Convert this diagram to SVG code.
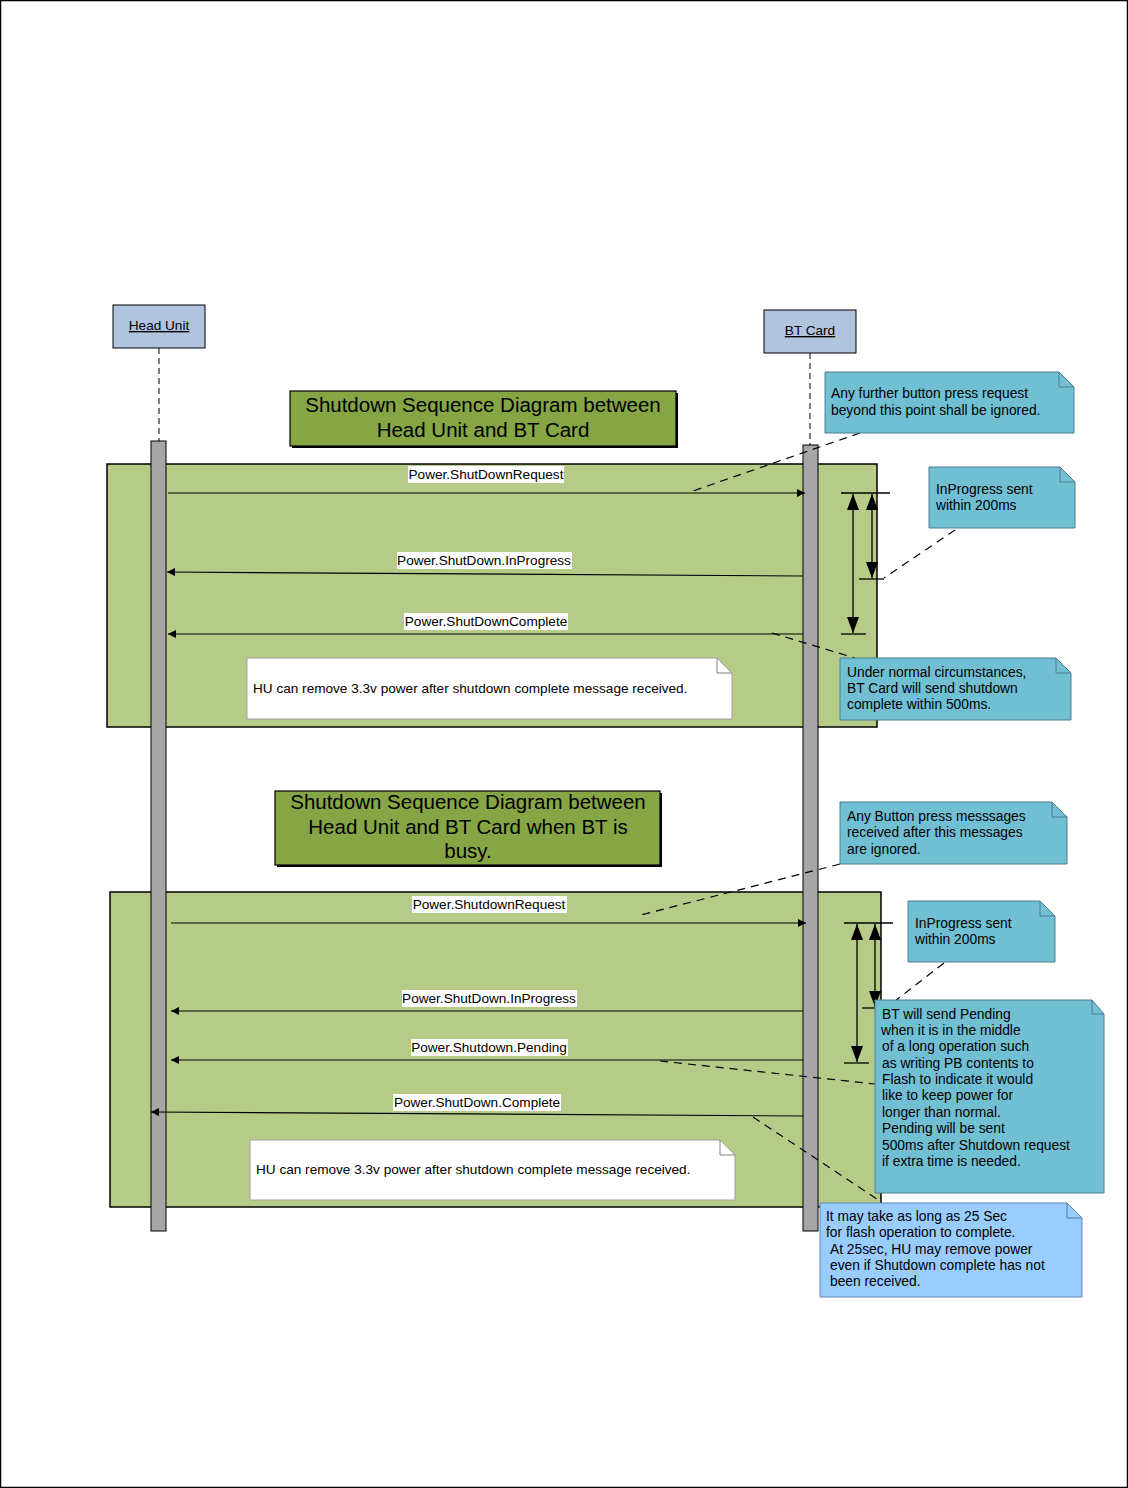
<svg xmlns="http://www.w3.org/2000/svg" width="1128" height="1488" viewBox="0 0 1128 1488">
<style>
text{font-family:"Liberation Sans",Arial,sans-serif;fill:#000}
.lbl{font-size:13.6px}
.nt{font-size:13.8px}
.ttl{font-size:20.5px;text-anchor:middle}
.msg{stroke:#000;stroke-width:1.2;fill:none}
.dash{stroke:#000;stroke-width:1.2;fill:none;stroke-dasharray:8 6}
.life{stroke:#000;stroke-width:1;fill:none;stroke-dasharray:6 4}
.act{fill:#a6a6a6;stroke:#000;stroke-width:1}
.obj{fill:#b0c4de;stroke:#000;stroke-width:1}
.frame{fill:#b7cb88;stroke:#000;stroke-width:1.5}
.title{fill:#86a545;stroke:#000;stroke-width:1.2}
.note{fill:#70bfd3;stroke:#4f7f8e;stroke-width:1}
.note2{fill:#99ccff;stroke:#5f86b8;stroke-width:1}
.wnote{fill:#fff;stroke:#a0a0a0;stroke-width:1}
.fold{fill:none;stroke:#4f7f8e;stroke-width:1}
.wfold{fill:none;stroke:#808080;stroke-width:1}
.lblbg{fill:#fff}
.dim{stroke:#000;stroke-width:1.3;fill:none}
</style>
<defs>
<marker id="ah" viewBox="0 0 10 10" refX="10" refY="5" markerWidth="8" markerHeight="8" markerUnits="userSpaceOnUse" orient="auto"><path d="M0,0 L10,5 L0,10 Z" fill="#000"/></marker>
<marker id="dh" viewBox="0 0 16 12" refX="16" refY="6" markerWidth="16" markerHeight="12" markerUnits="userSpaceOnUse" orient="auto-start-reverse"><path d="M0,0 L16,6 L0,12 Z" fill="#000"/></marker>
</defs>
<rect x="0.5" y="0.5" width="1127" height="1487" fill="#fff" stroke="#000" stroke-width="1.5"/>

<g id="frame1"><rect class="frame" x="107" y="464" width="770" height="263"/></g>
<g id="frame2"><rect class="frame" x="110" y="892" width="771" height="315"/></g>

<g id="title1">
<rect x="292" y="393" width="386" height="55" fill="#000"/>
<rect class="title" x="290" y="391" width="386" height="55"/>
<text class="ttl" x="483" y="412">Shutdown Sequence Diagram between</text>
<text class="ttl" x="483" y="437">Head Unit and BT Card</text>
</g>
<g id="title2">
<rect x="277" y="793" width="385" height="74" fill="#000"/>
<rect class="title" x="275" y="791" width="385" height="74"/>
<text class="ttl" x="468" y="809">Shutdown Sequence Diagram between</text>
<text class="ttl" x="468" y="834">Head Unit and BT Card when BT is</text>
<text class="ttl" x="468" y="858">busy.</text>
</g>

<g id="headunit">
<rect class="obj" x="113" y="305" width="92" height="43"/>
<text class="lbl" x="159" y="330" text-anchor="middle" text-decoration="underline">Head Unit</text>
<line class="life" x1="159" y1="348" x2="159" y2="441"/>
<rect class="act" x="151" y="441" width="15" height="790"/>
</g>
<g id="btcard">
<rect class="obj" x="764" y="310" width="92" height="43"/>
<text class="lbl" x="810" y="335" text-anchor="middle" text-decoration="underline">BT Card</text>
<line class="life" x1="810" y1="353" x2="810" y2="445"/>
<rect class="act" x="803" y="445" width="15" height="786"/>
</g>

<g id="connectors">
<line class="msg" x1="168" y1="493" x2="805" y2="493" marker-end="url(#ah)"/>
<line class="msg" x1="803" y1="576" x2="167" y2="572" marker-end="url(#ah)"/>
<line class="msg" x1="803" y1="634" x2="168" y2="634" marker-end="url(#ah)"/>
<line class="msg" x1="171" y1="923" x2="806" y2="923" marker-end="url(#ah)"/>
<line class="msg" x1="803" y1="1011" x2="171" y2="1011" marker-end="url(#ah)"/>
<line class="msg" x1="803" y1="1060" x2="171" y2="1060" marker-end="url(#ah)"/>
<line class="msg" x1="803" y1="1116" x2="151" y2="1112" marker-end="url(#ah)"/>

<line class="dash" x1="860" y1="433" x2="690" y2="492"/>
<line class="dash" x1="955" y1="530" x2="884" y2="578"/>
<line class="dash" x1="772" y1="633" x2="855" y2="658"/>
<line class="dash" x1="840" y1="864" x2="637" y2="916"/>
<line class="dash" x1="944" y1="963" x2="895" y2="1001"/>
<line class="dash" x1="660" y1="1061" x2="875" y2="1084"/>
<line class="dash" x1="753" y1="1117" x2="880" y2="1201"/>

<line class="dim" x1="841" y1="493" x2="890" y2="493"/>
<line class="dim" x1="859" y1="579" x2="884" y2="579"/>
<line class="dim" x1="841" y1="634" x2="866" y2="634"/>
<line class="dim" x1="853" y1="494" x2="853" y2="633" marker-start="url(#dh)" marker-end="url(#dh)"/>
<line class="dim" x1="872" y1="494" x2="872" y2="578" marker-start="url(#dh)" marker-end="url(#dh)"/>

<line class="dim" x1="844" y1="923" x2="893" y2="923"/>
<line class="dim" x1="862" y1="1008" x2="877" y2="1008"/>
<line class="dim" x1="844" y1="1063" x2="869" y2="1063"/>
<line class="dim" x1="857" y1="924" x2="857" y2="1062" marker-start="url(#dh)" marker-end="url(#dh)"/>
<line class="dim" x1="875" y1="924" x2="875" y2="1007" marker-start="url(#dh)" marker-end="url(#dh)"/>
</g>

<g id="labels">
<rect class="lblbg" x="408" y="466" width="156" height="17"/><text class="lbl" x="486" y="479" text-anchor="middle">Power.ShutDownRequest</text>
<rect class="lblbg" x="397" y="552" width="175" height="17"/><text class="lbl" x="484" y="565" text-anchor="middle">Power.ShutDown.InProgress</text>
<rect class="lblbg" x="404" y="613" width="164" height="17"/><text class="lbl" x="486" y="626" text-anchor="middle">Power.ShutDownComplete</text>
<rect class="lblbg" x="412" y="896" width="155" height="17"/><text class="lbl" x="489" y="909" text-anchor="middle">Power.ShutdownRequest</text>
<rect class="lblbg" x="402" y="990" width="175" height="17"/><text class="lbl" x="489" y="1003" text-anchor="middle">Power.ShutDown.InProgress</text>
<rect class="lblbg" x="411" y="1039" width="157" height="17"/><text class="lbl" x="489" y="1052" text-anchor="middle">Power.Shutdown.Pending</text>
<rect class="lblbg" x="393" y="1094" width="168" height="17"/><text class="lbl" x="477" y="1107" text-anchor="middle">Power.ShutDown.Complete</text>
</g>

<g id="note-hu1">
<path class="wnote" d="M247,658 H717 L732,673 V719 H247 Z"/><path class="wfold" d="M717,658 V673 H732"/>
<text class="lbl" x="253" y="693">HU can remove 3.3v power after shutdown complete message received.</text>
</g>
<g id="note-hu2">
<path class="wnote" d="M250,1140 H720 L735,1155 V1200 H250 Z"/><path class="wfold" d="M720,1140 V1155 H735"/>
<text class="lbl" x="256" y="1174">HU can remove 3.3v power after shutdown complete message received.</text>
</g>

<g id="note-further">
<path class="note" d="M825,372 H1059 L1074,387 V433 H825 Z"/><path class="fold" d="M1059,372 V387 H1074"/>
<text class="nt" x="831" y="398">Any further button press request</text>
<text class="nt" x="831" y="415">beyond this point shall be ignored.</text>
</g>
<g id="note-inprog1">
<path class="note" d="M929,467 H1060 L1075,482 V528 H929 Z"/><path class="fold" d="M1060,467 V482 H1075"/>
<text class="nt" x="936" y="494">InProgress sent</text>
<text class="nt" x="936" y="510">within 200ms</text>
</g>
<g id="note-normal">
<path class="note" d="M840,658 H1056 L1071,673 V720 H840 Z"/><path class="fold" d="M1056,658 V673 H1071"/>
<text class="nt" x="847" y="677">Under normal circumstances,</text>
<text class="nt" x="847" y="693">BT Card will send shutdown</text>
<text class="nt" x="847" y="709">complete within 500ms.</text>
</g>
<g id="note-button">
<path class="note" d="M840,802 H1052 L1067,817 V864 H840 Z"/><path class="fold" d="M1052,802 V817 H1067"/>
<text class="nt" x="847" y="821">Any Button press messsages</text>
<text class="nt" x="847" y="837">received after this messages</text>
<text class="nt" x="847" y="854">are ignored.</text>
</g>
<g id="note-inprog2">
<path class="note" d="M908,901 H1040 L1055,916 V962 H908 Z"/><path class="fold" d="M1040,901 V916 H1055"/>
<text class="nt" x="915" y="928">InProgress sent</text>
<text class="nt" x="915" y="944">within 200ms</text>
</g>
<g id="note-pending">
<path class="note" d="M875,1000 H1092 L1104,1014 V1193 H875 Z"/><path class="fold" d="M1092,1000 V1014 H1104"/>
<text class="nt" x="882" y="1019">BT will send Pending</text>
<text class="nt" x="881" y="1035">when it is in the middle</text>
<text class="nt" x="882" y="1051">of a long operation such</text>
<text class="nt" x="882" y="1068">as writing PB contents to</text>
<text class="nt" x="882" y="1084">Flash to indicate it would</text>
<text class="nt" x="882" y="1100">like to keep power for</text>
<text class="nt" x="882" y="1117">longer than normal.</text>
<text class="nt" x="882" y="1133">Pending will be sent</text>
<text class="nt" x="882" y="1150">500ms after Shutdown request</text>
<text class="nt" x="882" y="1166">if extra time is needed.</text>
</g>
<g id="note-flash">
<path class="note2" d="M820,1203 H1067 L1082,1218 V1297 H820 Z"/><path class="fold" d="M1067,1203 V1218 H1082" stroke="#5f86b8"/>
<text class="nt" x="826" y="1221">It may take as long as 25 Sec</text>
<text class="nt" x="826" y="1237">for flash operation to complete.</text>
<text class="nt" x="830" y="1254">At 25sec,  HU may remove power</text>
<text class="nt" x="830" y="1270">even if Shutdown complete has not</text>
<text class="nt" x="830" y="1286">been received.</text>
</g>
</svg>
